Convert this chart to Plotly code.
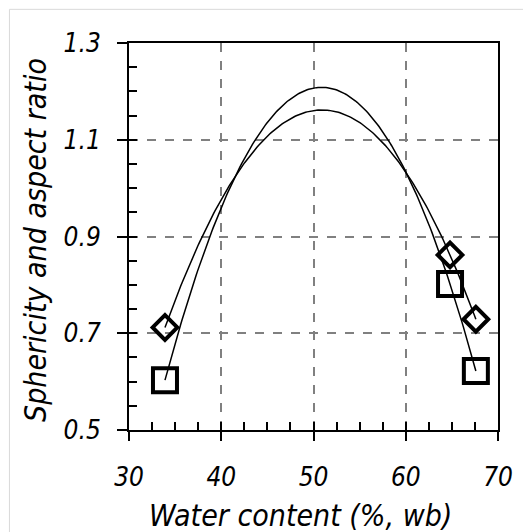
import numpy as np
import plotly.graph_objects as go

# values
water = [33.9, 64.8, 67.6]            # water content (%, wb)
sphericity = [0.603, 0.802, 0.622]    # squares
aspect = [0.712, 0.862, 0.729]        # diamonds

x_ticks = [30, 40, 50, 60, 70]
y_ticks = [0.5, 0.7, 0.9, 1.1, 1.3]

FONT = "Liberation Sans Narrow, DejaVu Sans Condensed, Liberation Sans, sans-serif"

# second-order polynomial trendlines through the points (as in the original)
xs = np.linspace(min(water), max(water), 200)
fit_s = np.polyval(np.polyfit(water, sphericity, 2), xs)
fit_a = np.polyval(np.polyfit(water, aspect, 2), xs)

fig = go.Figure()
fig.add_trace(go.Scatter(x=xs, y=fit_s, mode="lines",
                         line=dict(color="black", width=1.5), showlegend=False))
fig.add_trace(go.Scatter(x=xs, y=fit_a, mode="lines",
                         line=dict(color="black", width=1.5), showlegend=False))
fig.add_trace(go.Scatter(x=water, y=sphericity, mode="markers",
                         marker=dict(symbol="square-open", size=24, color="black",
                                     line=dict(width=4, color="black")),
                         showlegend=False))
fig.add_trace(go.Scatter(x=water, y=aspect, mode="markers",
                         marker=dict(symbol="diamond-open", size=19, color="black",
                                     line=dict(width=4, color="black")),
                         showlegend=False))
# empty trace so the overlay axes (inside ticks) get drawn
fig.add_trace(go.Scatter(x=[None], y=[None], xaxis="x2", yaxis="y2",
                         mode="markers", showlegend=False, hoverinfo="skip"))

tickfont = dict(family=FONT, size=26, color="black")
titlefont = dict(family=FONT, size=30, color="black", style="italic")

# the page body adds an 8px margin, so the figure is 8px smaller than the window
fig.update_layout(
    width=523, height=524,
    margin=dict(l=121, r=33, t=35, b=102),
    paper_bgcolor="white", plot_bgcolor="white",
    xaxis=dict(range=[30, 70], tickvals=x_ticks,
               ticktext=[f"<i>{v}</i>" for v in x_ticks],
               ticks="outside", ticklen=9,
               tickwidth=2, tickcolor="black", showline=True, linewidth=2,
               linecolor="black", mirror=True, showgrid=True, gridcolor="#808080",
               griddash="dash", gridwidth=1.5, zeroline=False, tickfont=tickfont,
               ticklabelstandoff=14, automargin=False),
    yaxis=dict(range=[0.5, 1.3], tickvals=y_ticks,
               ticktext=[f"<i>{v:.1f}</i>" for v in y_ticks],
               ticks="outside", ticklen=10, tickwidth=2, tickcolor="black",
               showline=True, linewidth=2, linecolor="black", mirror=True,
               showgrid=True, gridcolor="#808080", griddash="dash", gridwidth=1.5,
               zeroline=False, tickfont=tickfont, ticklabelstandoff=11,
               automargin=False),
    xaxis2=dict(range=[30, 70], overlaying="x", anchor="y2", tick0=30, dtick=2.5,
                ticks="inside", ticklen=8, tickwidth=1.5, tickcolor="black",
                showticklabels=False, showgrid=False, zeroline=False, showline=False,
                automargin=False),
    yaxis2=dict(range=[0.5, 1.3], overlaying="y", anchor="x2", tick0=0.5, dtick=0.05,
                ticks="inside", ticklen=8, tickwidth=1.5, tickcolor="black",
                showticklabels=False, showgrid=False, zeroline=False, showline=False,
                automargin=False),
    annotations=[
        dict(text="Water content (%, wb)", xref="paper", yref="paper", x=0.466,
             y=-0.222, xanchor="center", yanchor="middle", showarrow=False,
             font=titlefont),
        dict(text="Sphericity and aspect ratio", xref="paper", yref="paper", x=-0.252,
             y=0.491, xanchor="center", yanchor="middle", showarrow=False,
             textangle=-90, font=titlefont),
    ],
    shapes=[dict(type="rect", xref="paper", yref="paper", x0=-0.324, x1=1.2,
                 y0=-0.4, y1=1.087, line=dict(color="#d9d9d9", width=1),
                 layer="below")],
)

fig.write_html("out.html")
